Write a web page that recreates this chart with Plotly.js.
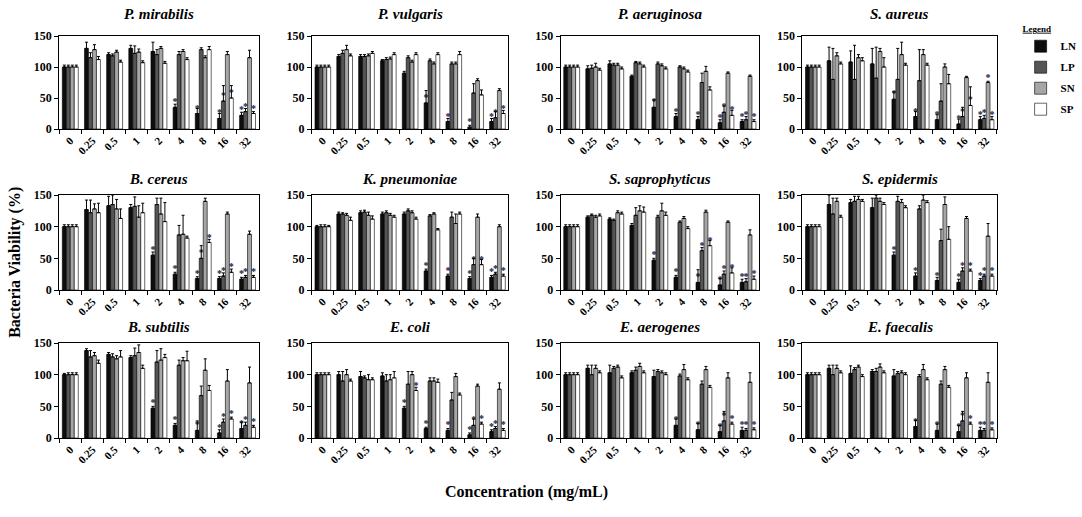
<!DOCTYPE html>
<html>
<head>
<meta charset="utf-8">
<script src="https://cdn.plot.ly/plotly-3.0.1.min.js"></script>
<style>html,body{margin:0;padding:0;background:#fff;}#chart{width:1082px;height:517px;}</style>
</head>
<body>
<div id="chart"></div>
<script>
// ---------- DATA ----------
const concentrations = ['0','0.25','0.5','1','2','4','8','16','32'];
const seriesNames = ['LN','LP','SN','SP'];
const speciesNames = ['P. mirabilis','P. vulgaris','P. aeruginosa','S. aureus',
                      'B. cereus','K. pneumoniae','S. saprophyticus','S. epidermis',
                      'B. subtilis','E. coli','E. aerogenes','E. faecalis'];

// viability (%) per species: LN, LP, SN, SP
const P_mirabilis   = {LN:[100,130,120,130,125,35,25,17,22], LP:[100,115,118,122,120,120,128,45,28], SN:[100,128,124,124,130,125,115,120,115], SP:[100,112,108,107,106,112,128,50,25]};
const P_vulgaris    = {LN:[100,117,117,110,90,42,12,3,12],   LP:[100,122,117,112,115,110,105,58,18], SN:[100,128,118,113,108,105,105,78,62], SP:[100,118,122,120,120,120,120,55,25]};
const P_aeruginosa  = {LN:[100,97,105,85,35,20,15,10,12],    LP:[100,98,103,107,105,100,75,27,15],   SN:[100,100,103,105,102,97,93,90,85],   SP:[100,95,97,100,97,92,63,22,12]};
const S_aureus      = {LN:[100,110,108,105,48,20,15,8,15],   LP:[100,80,80,82,80,78,45,20,17],       SN:[100,118,115,125,120,120,100,83,75], SP:[100,105,110,100,103,103,73,38,15]};
const B_cereus      = {LN:[100,127,133,130,55,25,18,18,17],  LP:[100,122,135,132,135,87,50,22,20],   SN:[100,128,128,115,120,88,140,120,88], SP:[100,122,113,122,108,82,75,28,20]};
const K_pneumoniae  = {LN:[100,120,122,120,120,30,22,18,20], LP:[100,120,123,122,125,117,115,40,25], SN:[100,118,118,118,122,120,105,115,100], SP:[100,110,112,115,112,95,120,40,22]};
const S_saprophyticus = {LN:[100,115,112,102,47,20,12,8,12], LP:[100,118,110,118,115,107,62,25,13], SN:[100,115,122,125,125,113,123,107,87], SP:[100,117,120,123,118,97,70,27,17]};
const S_epidermis   = {LN:[100,135,138,130,55,22,15,12,15],  LP:[100,120,140,145,140,128,78,30,22], SN:[100,140,143,140,138,142,135,113,85], SP:[100,115,140,135,130,138,80,30,22]};
const B_subtilis    = {LN:[100,138,132,127,47,20,12,8,15],   LP:[100,128,128,130,120,115,67,25,20], SN:[100,130,125,135,123,122,107,90,87], SP:[100,118,128,110,127,122,75,30,17]};
const E_coli        = {LN:[100,100,97,98,47,15,12,5,10],     LP:[100,90,95,90,85,90,60,20,15],      SN:[100,100,92,92,100,90,97,82,77],     SP:[100,90,92,95,75,88,68,22,12]};
const E_aerogenes   = {LN:[100,110,103,103,97,20,13,10,12],  LP:[100,100,110,107,105,98,85,27,12],  SN:[100,110,112,113,103,108,108,95,88], SP:[100,103,95,103,100,92,80,22,13]};
const E_faecalis    = {LN:[100,110,102,105,98,18,12,10,12],  LP:[100,100,108,105,102,97,85,27,12],  SN:[100,110,112,112,103,108,108,95,88], SP:[100,103,97,103,100,92,80,22,13]};

// error bars (upper, %)
const P_mirabilis_err   = {LN:[3,10,3,5,15,5,8,8,5], LP:[3,8,3,12,8,5,3,25,5], SN:[3,8,3,5,3,3,3,5,12], SP:[3,5,3,3,3,3,5,20,3]};
const P_vulgaris_err    = {LN:[3,3,3,2,3,20,5,3,5], LP:[3,5,3,3,3,3,3,15,10], SN:[3,7,3,3,3,3,3,3,3], SP:[3,3,3,3,3,3,5,8,5]};
const P_aeruginosa_err  = {LN:[3,5,5,2,12,5,5,5,3], LP:[3,5,3,2,3,2,15,10,5], SN:[3,6,3,3,3,3,8,2,2], SP:[3,3,3,3,3,3,5,8,3]};
const S_aureus_err      = {LN:[3,22,18,25,12,8,8,8,5], LP:[3,50,55,50,50,50,28,15,5], SN:[3,5,5,5,20,8,5,2,2], SP:[3,3,5,15,3,3,15,30,5]};
const B_cereus_err      = {LN:[3,15,15,5,5,3,3,3,3], LP:[3,20,15,15,10,15,20,5,3], SN:[3,8,15,18,25,30,5,3,5], SP:[3,15,15,15,30,3,5,5,3]};
const K_pneumoniae_err  = {LN:[2,3,3,3,3,3,3,3,3], LP:[3,2,3,3,3,2,8,10,3], SN:[3,3,5,3,3,2,15,5,3], SP:[2,5,5,3,3,2,3,8,3]};
const S_saprophyticus_err = {LN:[3,2,2,3,3,3,20,10,5], LP:[3,2,2,12,3,2,5,5,5], SN:[3,3,3,8,12,3,3,2,8], SP:[3,3,3,8,5,3,8,8,5]};
const S_epidermis_err   = {LN:[3,15,5,15,5,5,5,5,3], LP:[3,25,8,5,8,5,18,5,3], SN:[3,5,5,5,5,8,12,3,20], SP:[3,3,3,3,3,3,20,3,3]};
const B_subtilis_err    = {LN:[2,3,3,3,3,3,15,5,10], LP:[3,10,5,12,18,8,15,5,5], SN:[3,5,5,12,18,5,18,18,25], SP:[3,5,10,5,5,15,8,3,3]};
const E_coli_err        = {LN:[3,5,8,5,3,2,3,3,3], LP:[3,15,3,10,20,5,12,10,3], SN:[3,8,8,8,5,5,5,3,10], SP:[3,3,3,10,5,5,3,3,3]};
const E_aerogenes_err   = {LN:[3,5,12,3,10,10,10,10,5], LP:[3,15,3,5,3,3,5,15,3], SN:[3,5,3,5,3,8,5,8,15], SP:[3,3,3,3,3,3,3,3,3]};
const E_faecalis_err    = {LN:[3,5,12,3,10,10,10,10,5], LP:[3,15,3,5,3,3,5,15,3], SN:[3,5,3,5,3,8,5,8,15], SP:[3,3,3,3,3,3,3,3,3]};

// significance markers (1 = asterisk)
const P_mirabilis_sig   = {LN:[0,0,0,0,0,1,1,1,1], LP:[0,0,0,0,0,0,0,1,1], SN:[0,0,0,0,0,0,0,0,0], SP:[0,0,0,0,0,0,0,1,1]};
const P_vulgaris_sig    = {LN:[0,0,0,0,0,1,1,1,1], LP:[0,0,0,0,0,0,0,0,1], SN:[0,0,0,0,0,0,0,0,0], SP:[0,0,0,0,0,0,0,0,1]};
const P_aeruginosa_sig  = {LN:[0,0,0,0,1,1,1,1,1], LP:[0,0,0,0,0,0,0,1,1], SN:[0,0,0,0,0,0,0,0,0], SP:[0,0,0,0,0,0,0,1,1]};
const S_aureus_sig      = {LN:[0,0,0,0,1,1,1,1,1], LP:[0,0,0,0,0,0,0,1,1], SN:[0,0,0,0,0,0,0,0,1], SP:[0,0,0,0,0,0,0,1,1]};
const B_cereus_sig      = {LN:[0,0,0,0,1,1,1,1,1], LP:[0,0,0,0,0,0,1,1,1], SN:[0,0,0,0,0,0,0,0,0], SP:[0,0,0,0,0,0,1,1,1]};
const K_pneumoniae_sig  = {LN:[0,0,0,0,0,1,1,1,1], LP:[0,0,0,0,0,0,0,1,1], SN:[0,0,0,0,0,0,0,0,0], SP:[0,0,0,0,0,0,0,1,1]};
const S_saprophyticus_sig = {LN:[0,0,0,0,1,1,1,1,1], LP:[0,0,0,0,0,0,1,1,1], SN:[0,0,0,0,0,0,0,0,0], SP:[0,0,0,0,0,0,1,1,1]};
const S_epidermis_sig   = {LN:[0,0,0,0,1,1,1,1,1], LP:[0,0,0,0,0,0,0,1,1], SN:[0,0,0,0,0,0,0,0,0], SP:[0,0,0,0,0,0,0,1,1]};
const B_subtilis_sig    = {LN:[0,0,0,0,1,1,1,1,1], LP:[0,0,0,0,0,0,0,1,1], SN:[0,0,0,0,0,0,0,0,0], SP:[0,0,0,0,0,0,0,1,1]};
const E_coli_sig        = {LN:[0,0,0,0,1,1,1,1,1], LP:[0,0,0,0,0,0,0,1,1], SN:[0,0,0,0,0,0,0,0,0], SP:[0,0,0,0,1,0,0,1,1]};
const E_aerogenes_sig   = {LN:[0,0,0,0,0,1,1,1,1], LP:[0,0,0,0,0,0,0,1,1], SN:[0,0,0,0,0,0,0,0,0], SP:[0,0,0,0,0,0,0,1,1]};
const E_faecalis_sig    = {LN:[0,0,0,0,0,1,1,1,1], LP:[0,0,0,0,0,0,0,1,1], SN:[0,0,0,0,0,0,0,0,0], SP:[0,0,0,0,0,0,0,1,1]};

const speciesData = [P_mirabilis,P_vulgaris,P_aeruginosa,S_aureus,B_cereus,K_pneumoniae,S_saprophyticus,S_epidermis,B_subtilis,E_coli,E_aerogenes,E_faecalis];
const speciesErr  = [P_mirabilis_err,P_vulgaris_err,P_aeruginosa_err,S_aureus_err,B_cereus_err,K_pneumoniae_err,S_saprophyticus_err,S_epidermis_err,B_subtilis_err,E_coli_err,E_aerogenes_err,E_faecalis_err];
const speciesSig  = [P_mirabilis_sig,P_vulgaris_sig,P_aeruginosa_sig,S_aureus_sig,B_cereus_sig,K_pneumoniae_sig,S_saprophyticus_sig,S_epidermis_sig,B_subtilis_sig,E_coli_sig,E_aerogenes_sig,E_faecalis_sig];

// ---------- STYLE ----------
const W = 1082, H = 517;
const colors = {LN:'#0d0d0d', LP:'#555555', SN:'#a6a6a6', SP:'#ffffff'};
const colPx = [[60,262],[316,515],[568,769],[813,1010]];
const rowPx = [[36,129],[195,290],[343,438]];
const titleOffset = [12, 6, 6];
const FONT = '"Liberation Serif", "Times New Roman", serif';

const traces = [];
const layout = {
  width: W, height: H, autosize: false,
  margin: {l:0, r:0, t:0, b:0},
  paper_bgcolor: '#fff', plot_bgcolor: '#fff',
  barmode: 'group', bargap: 0.28, bargroupgap: 0,
  font: {family: FONT, color: '#000'},
  showlegend: true,
  legend: {
    x: 1034/W, y: 1 - 20/H, xanchor: 'left', yanchor: 'top',
    title: {text: '<u>Legend</u>', side: 'top', font: {family: FONT, size: 9, color:'#000'}},
    font: {family: FONT, size: 11, color: '#000', weight: 'bold'},
    bgcolor: 'rgba(0,0,0,0)', itemwidth: 30, tracegroupgap: 2
  },
  annotations: [],
};

speciesNames.forEach((name, i) => {
  const r = Math.floor(i / 4), c = i % 4;
  const n = i + 1;
  const xa = 'x' + (n === 1 ? '' : n), ya = 'y' + (n === 1 ? '' : n);
  const xk = 'xaxis' + (n === 1 ? '' : n), yk = 'yaxis' + (n === 1 ? '' : n);
  const xd = [colPx[c][0]/W, colPx[c][1]/W];
  const yd = [1 - rowPx[r][1]/H, 1 - rowPx[r][0]/H];
  seriesNames.forEach(s => {
    traces.push({
      type: 'bar', name: s, x: concentrations, y: speciesData[i][s],
      xaxis: xa, yaxis: ya, legendgroup: s, showlegend: i === 0,
      marker: {color: colors[s], line: {color: '#000', width: 0.6}},
      error_y: {type: 'data', array: speciesErr[i][s], arrayminus: [], symmetric: false,
                color: '#000', thickness: 1, width: 1.5},
      text: speciesSig[i][s].map(v => v ? '*' : ''),
      textposition: 'outside', constraintext: 'none', cliponaxis: false,
      textfont: {family: FONT, size: 10, color: '#14203f', weight: 'bold'},
      hoverinfo: 'x+y+name'
    });
  });
  layout[xk] = {
    domain: xd, anchor: ya, type: 'category',
    showline: true, linecolor: '#000', linewidth: 1, mirror: true,
    ticks: 'outside', tickson: 'boundaries', ticklen: 4, tickcolor: '#000',
    tickangle: -45, showgrid: false, zeroline: false,
    tickfont: {family: FONT, size: 11, color: '#000', weight: 'bold'},
    fixedrange: true
  };
  layout[yk] = {
    domain: yd, anchor: xa, range: [0, 150], tickvals: [0,50,100,150],
    showline: true, linecolor: '#000', linewidth: 1, mirror: true,
    ticks: 'outside', ticklen: 4, tickcolor: '#000', showgrid: false, zeroline: false,
    tickfont: {family: FONT, size: 12, color: '#000', weight: 'bold'},
    fixedrange: true
  };
  layout.annotations.push({
    text: '<b><i>' + name + '</i></b>', xref: 'paper', yref: 'paper',
    x: (xd[0] + xd[1]) / 2, y: yd[1], xanchor: 'center', yanchor: 'bottom',
    yshift: titleOffset[r], showarrow: false,
    font: {family: FONT, size: 15, color: '#000'}
  });
});

layout.annotations.push({
  text: '<b>Bacteria Viability (%)</b>', xref: 'paper', yref: 'paper',
  x: 15/W, y: 1 - 262/H, textangle: -90, showarrow: false,
  xanchor: 'center', yanchor: 'middle', font: {family: FONT, size: 16, color: '#000'}
});
layout.annotations.push({
  text: '<b>Concentration (mg/mL)</b>', xref: 'paper', yref: 'paper',
  x: 533/W, y: 1 - 492/H, showarrow: false,
  xanchor: 'center', yanchor: 'middle', font: {family: FONT, size: 16, color: '#000'}
});

Plotly.newPlot('chart', traces, layout, {displayModeBar: false, staticPlot: true});
</script>
</body>
</html>
